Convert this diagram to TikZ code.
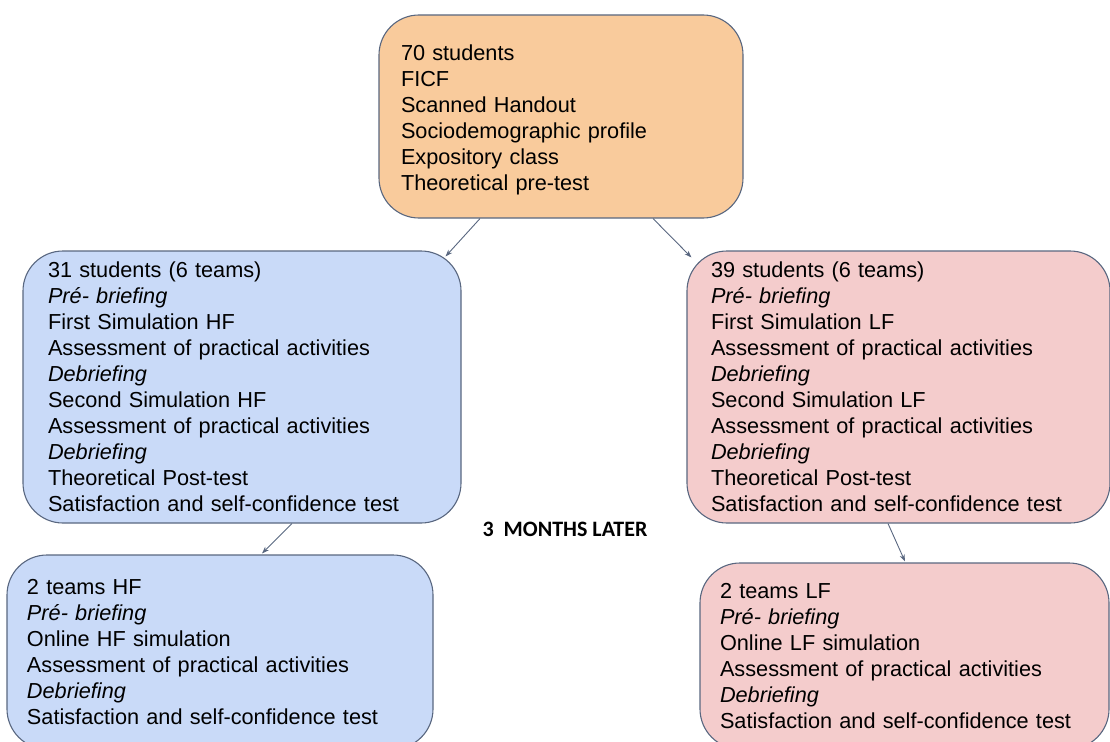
\documentclass[tikz,border=0pt]{standalone}
\usepackage{fontspec}
\setmainfont{Liberation Sans}
\newfontfamily\calib{Carlito}
\usetikzlibrary{calc,arrows.meta}
\definecolor{orng}{HTML}{F9CB9C}
\definecolor{blu}{HTML}{C9DAF8}
\definecolor{pnk}{HTML}{F4CCCC}
\definecolor{bd}{RGB}{89,103,128}
\tikzset{
  box/.style={draw=bd, line width=1.1pt, rounded corners=40pt, align=left, inner ysep=0pt,
    font=\fontsize{21.7}{26}\selectfont},
  arr/.style={draw=bd, line width=0.9pt, -{Stealth[length=7pt,width=5pt]}},
}
\begin{document}
\begin{tikzpicture}[x=1pt,y=-1pt]
\useasboundingbox (0,0) rectangle (1110,741);
\node[box, fill=orng, minimum width=364pt, minimum height=203pt, inner xsep=22pt, text width=320pt] (top) at (561,116.5)
 {\rule{0pt}{23pt}70 students\\FICF\\Scanned Handout\\Sociodemographic profile\\Expository class\\Theoretical pre-test};
\node[box, fill=blu, minimum width=438pt, minimum height=272pt, inner xsep=25pt, text width=388pt] (hf1) at (242,387)
 {31 students (6 teams)\\\textit{Pré- briefing}\\First Simulation HF\\Assessment of practical activities\\\textit{Debriefing}\\Second Simulation HF\\Assessment of practical activities\\\textit{Debriefing}\\Theoretical Post-test\\Satisfaction and self-confidence test};
\node[box, fill=pnk, minimum width=423pt, minimum height=272pt, inner xsep=24pt, text width=375pt] (lf1) at (898.5,387)
 {39 students (6 teams)\\\textit{Pré- briefing}\\First Simulation LF\\Assessment of practical activities\\\textit{Debriefing}\\Second Simulation LF\\Assessment of practical activities\\\textit{Debriefing}\\Theoretical Post-test\\Satisfaction and self-confidence test};
\node[box, fill=blu, minimum width=426pt, minimum height=194pt, inner xsep=20pt, text width=386pt] (hf2) at (220,652)
 {2 teams HF\\\textit{Pré- briefing}\\Online HF simulation\\Assessment of practical activities\\\textit{Debriefing}\\Satisfaction and self-confidence test};
\node[box, fill=pnk, minimum width=409pt, minimum height=186pt, inner xsep=20pt, text width=369pt] (lf2) at (904.5,656)
 {2 teams LF\\\textit{Pré- briefing}\\Online LF simulation\\Assessment of practical activities\\\textit{Debriefing}\\Satisfaction and self-confidence test};
\node[font=\calib\bfseries\fontsize{22}{25}\selectfont, inner sep=0pt] (later) at (565,529) {3\ \ MONTHS LATER};
\draw[arr] ($(top.south)+(-81,0)$) -- ($(hf1.north east)+(-16,6)$);
\draw[arr] ($(top.south)+(92,0)$) -- ($(lf1.north west)+(5,7)$);
\draw[arr] ($(hf1.south)+(50,0)$) -- ($(hf2.north)+(42,-1)$);
\draw[arr] ($(lf1.south)+(-10.5,0)$) -- ($(lf2.north)+(0.5,-1)$);
\end{tikzpicture}
\end{document}
